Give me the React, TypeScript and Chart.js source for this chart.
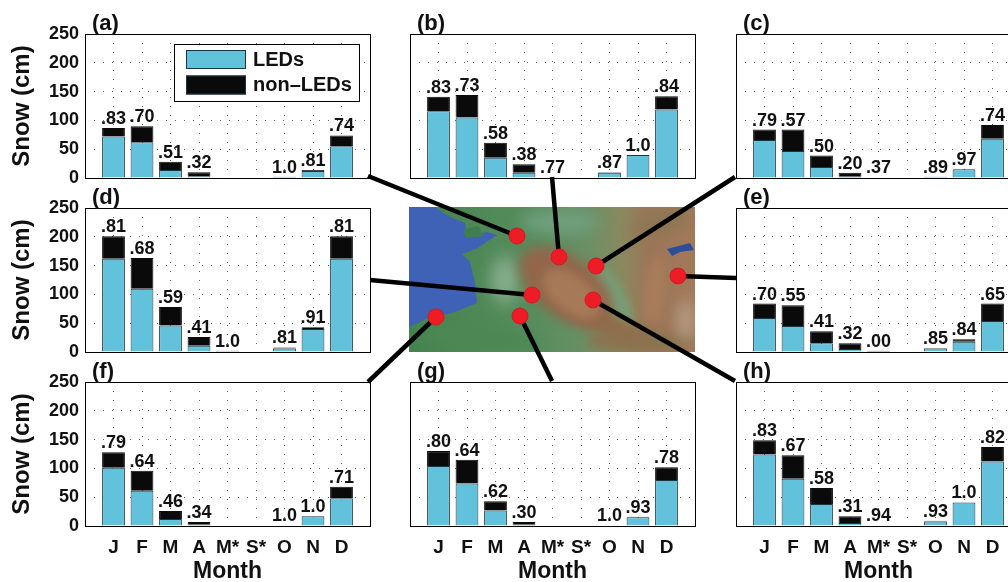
import React, { useEffect, useRef } from "react";
import { Chart, registerables } from "chart.js";

Chart.register(...registerables);

const FONT = '"Liberation Sans", Arial, sans-serif';
const months = ["J", "F", "M", "A", "M*", "S*", "O", "N", "D"];
const seriesNames = ["LEDs", "non-LEDs"];

const panelNames = ["(a)", "(b)", "(c)", "(d)", "(e)", "(f)", "(g)", "(h)"];
const panelLefts = [85, 410, 736, 85, 736, 85, 410, 736];
const panelTops = [34, 34, 34, 208, 208, 382, 382, 382];

const totalsA = [87, 90, 28, 10, 0, 0, 2, 14, 74];
const ledsA = [72, 62, 14, 3, 0, 0, 2, 12, 55];
const labelsA = [".83", ".70", ".51", ".32", "", "", "1.0", ".81", ".74"];

const totalsB = [141, 144, 61, 24, 1, 0, 10, 40, 142];
const ledsB = [116, 105, 35, 9, 1, 0, 9, 40, 119];
const labelsB = [".83", ".73", ".58", ".38", ".77", "", ".87", "1.0", ".84"];

const totalsC = [84, 84, 39, 9, 1, 0, 2, 15, 92];
const ledsC = [66, 47, 19, 2, 0, 0, 2, 15, 68];
const labelsC = [".79", ".57", ".50", ".20", ".37", "", ".89", ".97", ".74"];

const totalsD = [201, 163, 78, 26, 2, 0, 8, 43, 201];
const ledsD = [162, 110, 46, 11, 2, 0, 6, 40, 162];
const labelsD = [".81", ".68", ".59", ".41", "1.0", "", ".81", ".91", ".81"];

const totalsE = [84, 81, 36, 15, 2, 0, 7, 22, 84];
const ledsE = [59, 45, 15, 5, 0, 0, 6, 18, 54];
const labelsE = [".70", ".55", ".41", ".32", ".00", "", ".85", ".84", ".65"];

const totalsF = [128, 96, 26, 7, 0, 0, 1, 17, 68];
const ledsF = [101, 61, 12, 2, 0, 0, 1, 17, 48];
const labelsF = [".79", ".64", ".46", ".34", "", "", "1.0", "1.0", ".71"];

const totalsG = [130, 115, 43, 7, 0, 0, 1, 16, 102];
const ledsG = [104, 74, 27, 2, 0, 0, 1, 15, 80];
const labelsG = [".80", ".64", ".62", ".30", "", "", "1.0", ".93", ".78"];

const totalsH = [149, 123, 66, 17, 1, 0, 9, 41, 137];
const ledsH = [124, 82, 38, 5, 1, 0, 8, 41, 112];
const labelsH = [".83", ".67", ".58", ".31", ".94", "", ".93", "1.0", ".82"];

const allTotals = [totalsA, totalsB, totalsC, totalsD, totalsE, totalsF, totalsG, totalsH];
const allLeds = [ledsA, ledsB, ledsC, ledsD, ledsE, ledsF, ledsG, ledsH];
const allLabels = [labelsA, labelsB, labelsC, labelsD, labelsE, labelsF, labelsG, labelsH];

// Map sites and the panel corners they link to, in page units
const siteX = [517, 559, 596, 532, 678, 436, 520, 593];
const siteY = [236, 257, 266, 295, 276, 317, 316, 300];
const linkEndX = [368, 552, 735, 370, 736, 368, 552, 735];
const linkEndY = [176, 177, 177, 280, 278, 382, 381, 381];

const coastline = [
  [409, 207], [435, 207], [448, 216], [465, 223], [467, 235], [487, 232], [497, 235], [476, 249],
  [462, 254], [470, 262], [475, 283], [477, 303], [452, 313], [428, 318], [409, 327],
];
const island = [[463, 230], [478, 226], [484, 236], [466, 238]];
const lake = [[667, 249], [690, 243], [694, 250], [680, 252], [672, 256]];

const mapPlugin = {
  id: "mapPaint",
  beforeDatasetsDraw(chart: any) {
    const { ctx } = chart;
    const sx = chart.scales.x, sy = chart.scales.y;
    const px = (v: number) => sx.getPixelForValue(v);
    const py = (v: number) => sy.getPixelForValue(v);
    const x0 = px(409), x1 = px(695), y0 = py(207), y1 = py(352);
    ctx.save();
    ctx.beginPath();
    ctx.rect(x0, y0, x1 - x0, y1 - y0);
    ctx.clip();
    const g = ctx.createLinearGradient(x0, 0, x1, 0);
    g.addColorStop(0, "#44834f");
    g.addColorStop(0.45, "#588d5e");
    g.addColorStop(0.62, "#6a9066");
    g.addColorStop(0.74, "#88895f");
    g.addColorStop(0.84, "#9c7658");
    g.addColorStop(1, "#a27a5a");
    ctx.fillStyle = g;
    ctx.fillRect(x0, y0, x1 - x0, y1 - y0);
    const blob = (cx: number, cy: number, rx: number, ry: number, rot: number, col: string, blur: number) => {
      ctx.filter = `blur(${blur}px)`;
      ctx.fillStyle = col;
      ctx.beginPath();
      ctx.ellipse(px(cx), py(cy), rx, ry, rot, 0, Math.PI * 2);
      ctx.fill();
      ctx.filter = "none";
    };
    blob(560, 222, 40, 12, 0, "#6f9f7c", 7);
    blob(505, 280, 14, 24, 0, "#86ad8c", 8);
    blob(480, 338, 60, 12, 0.1, "#4c8854", 6);
    blob(640, 342, 55, 10, 0, "#8a7550", 5);
    blob(612, 296, 12, 36, -0.5, "#779f78", 4);
    blob(612, 327, 40, 11, 0.35, "#8f6f4c", 5);
    blob(566, 287, 54, 30, 0.65, "#93664a", 6);
    blob(572, 294, 34, 18, 0.65, "#a67a58", 5);
    blob(686, 320, 9, 20, 0, "#b39a82", 7);
    blob(655, 290, 10, 34, 0.1, "#a87c5a", 5);
    blob(662, 222, 30, 13, -0.3, "#8e7755", 6);
    ctx.filter = "blur(0.6px)";
    const poly = (pts: number[][], col: string) => {
      ctx.fillStyle = col;
      ctx.beginPath();
      pts.forEach((p, i) => (i ? ctx.lineTo(px(p[0]), py(p[1])) : ctx.moveTo(px(p[0]), py(p[1]))));
      ctx.closePath();
      ctx.fill();
    };
    poly(coastline, "#3f62b6");
    poly(island, "#3f7e50");
    poly(lake, "#2c4e9b");
    ctx.restore();
  },
};

const panelPlugin = {
  id: "panelText",
  afterDatasetsDraw(chart: any, _a: any, opts: any) {
    const { ctx, chartArea: a, scales } = chart;
    ctx.save();
    ctx.strokeStyle = "#000";
    ctx.lineWidth = 1;
    ctx.strokeRect(a.left + 0.5, a.top + 0.5, a.right - a.left, a.bottom - a.top);
    ctx.fillStyle = "#111";
    ctx.textAlign = "center";
    ctx.font = `bold 18px ${FONT}`;
    opts.labels.forEach((t: string, i: number) => {
      if (!t) return;
      ctx.fillText(t, scales.x.getPixelForValue(i + 1), scales.y.getPixelForValue(opts.totals[i]) - 4);
    });
    ctx.textAlign = "left";
    ctx.font = `bold 22px ${FONT}`;
    ctx.fillText(opts.name, a.left + 7, a.top - 4);
    if (opts.legend) {
      const lx = a.left + 89, ly = a.top + 10;
      ctx.fillStyle = "#fff";
      ctx.fillRect(lx, ly, 185, 57);
      ctx.strokeRect(lx + 0.5, ly + 0.5, 185, 57);
      chart.data.datasets.forEach((d: any, i: number) => {
        const sy = ly + 6 + i * 25.5;
        ctx.fillStyle = d.backgroundColor;
        ctx.fillRect(lx + 12, sy, 60, 19);
        ctx.strokeStyle = "#1c3640";
        ctx.strokeRect(lx + 12.5, sy + 0.5, 59, 18);
        ctx.fillStyle = "#111";
        ctx.font = `bold 20px ${FONT}`;
        ctx.textBaseline = "middle";
        ctx.fillText(i ? "non\u2013LEDs" : d.label, lx + 79, sy + 10);
      });
    }
    ctx.restore();
  },
};

function Panel({ index }: { index: number }) {
  const ref = useRef<HTMLCanvasElement>(null);
  const isLeft = panelLefts[index] === 85;
  const isBottom = index >= 5;
  const height = isBottom ? 235 : 188;
  useEffect(() => {
    const totals = allTotals[index];
    const leds = allLeds[index];
    const chart = new Chart(ref.current!, {
      type: "bar",
      data: {
        labels: ["", ...months, ""],
        datasets: [
          {
            label: seriesNames[0],
            data: [null, ...leds, null],
            backgroundColor: "#62c2dc",
            borderColor: "#1c3640",
            borderWidth: 1,
            barPercentage: 0.8,
            categoryPercentage: 1,
            stack: "s",
          },
          {
            label: seriesNames[1],
            data: [null, ...totals.map((t, i) => t - leds[i]), null],
            backgroundColor: "#0a0a0a",
            borderColor: "#0a0a0a",
            borderWidth: 1,
            barPercentage: 0.8,
            categoryPercentage: 1,
            stack: "s",
          },
        ],
      },
      options: {
        responsive: false,
        animation: false,
        layout: { autoPadding: false, padding: { top: 32, right: 5, left: 0, bottom: 0 } },
        plugins: {
          legend: { display: false },
          tooltip: { enabled: false },
          panelText: {
            labels: allLabels[index],
            totals,
            name: panelNames[index],
            legend: index === 0,
          },
        } as any,
        scales: {
          x: {
            stacked: true,
            offset: false,
            grid: { offset: false, color: "rgba(0,0,0,0.6)", drawTicks: false },
            border: { display: false, dash: [1, 8] },
            ticks: {
              display: isBottom,
              autoSkip: false,
              maxRotation: 0,
              padding: 10,
              color: "#111",
              font: { family: FONT, weight: "bold", size: 19 },
            },
            title: {
              display: isBottom,
              text: "Month",
              color: "#111",
              padding: 0,
              font: { family: FONT, weight: "bold", size: 23 },
            },
            afterFit: (s: any) => {
              s.height = isBottom ? 59 : 12;
              s.paddingLeft = 0;
              s.paddingRight = 0;
            },
          },
          y: {
            stacked: true,
            min: 0,
            max: 250,
            grid: { color: "rgba(0,0,0,0.6)", drawTicks: false },
            border: { display: false, dash: [1, 8] },
            ticks: {
              display: isLeft,
              stepSize: 50,
              padding: 6,
              color: "#111",
              font: { family: FONT, weight: "bold", size: 18 },
            },
            title: {
              display: isLeft,
              text: "Snow (cm)",
              color: "#111",
              padding: { top: 8, bottom: 0 },
              font: { family: FONT, weight: "bold", size: 24 },
            },
            afterFit: (s: any) => {
              s.width = 85;
              s.paddingTop = 0;
              s.paddingBottom = 0;
            },
          },
        },
      },
      plugins: [panelPlugin],
    } as any);
    return () => chart.destroy();
  }, []);
  return (
    <canvas
      ref={ref}
      width={375}
      height={height}
      style={{ position: "absolute", left: panelLefts[index] - 85, top: panelTops[index] - 32, width: 375, height }}
    />
  );
}

function MapLayer() {
  const ref = useRef<HTMLCanvasElement>(null);
  useEffect(() => {
    const chart = new Chart(ref.current!, {
      type: "scatter",
      data: {
        datasets: [
          {
            label: "sites",
            data: siteX.map((x, i) => ({ x, y: siteY[i] })),
            pointRadius: 8,
            pointBackgroundColor: "#ee1c25",
            pointBorderColor: "#c8202a",
            pointBorderWidth: 1,
            showLine: false,
            order: 0,
          },
          ...siteX.map((x, i) => ({
            label: `link ${panelNames[i]}`,
            data: [{ x, y: siteY[i] }, { x: linkEndX[i], y: linkEndY[i] }],
            showLine: true,
            borderColor: "#000",
            borderWidth: 4.5,
            pointRadius: 0,
            order: 1,
          })),
        ],
      },
      options: {
        responsive: false,
        animation: false,
        layout: { autoPadding: false, padding: 0 },
        plugins: { legend: { display: false }, tooltip: { enabled: false } },
        scales: {
          x: { type: "linear", display: false, min: 0, max: 1008 },
          y: { type: "linear", display: false, min: 0, max: 582, reverse: true },
        },
      },
      plugins: [mapPlugin],
    } as any);
    return () => chart.destroy();
  }, []);
  return <canvas ref={ref} width={1008} height={582} style={{ position: "absolute", left: 0, top: 0, width: 1008, height: 582 }} />;
}

export default function App() {
  return (
    <div style={{ position: "fixed", left: 0, top: 0, width: 1008, height: 582, overflow: "hidden", background: "#fff" }}>
      <MapLayer />
      {panelNames.map((_, i) => (
        <Panel key={i} index={i} />
      ))}
    </div>
  );
}
